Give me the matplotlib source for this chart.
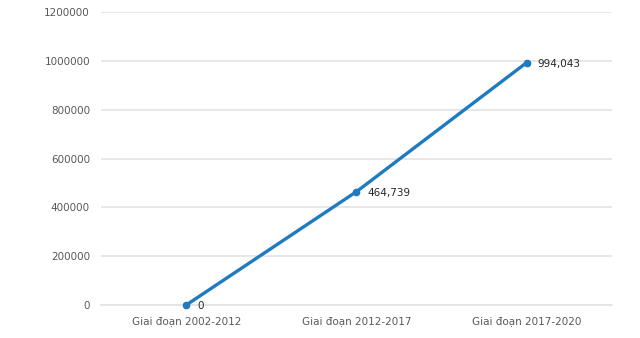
import matplotlib.pyplot as plt

categories = ['Giai đoạn 2002-2012', 'Giai đoạn 2012-2017', 'Giai đoạn 2017-2020']
values = [0, 464739, 994043]
labels = ['0', '464,739', '994,043']

fig = plt.figure(figsize=(6.4, 3.38), dpi=100)
ax = fig.add_axes([0.158, 0.0976, 0.798, 0.866])

x = list(range(len(categories)))
ax.plot(x, values, color='#1f7bbf', linewidth=2.4, marker='o', markersize=4.5,
        zorder=3, clip_on=False)

for xi, v, lab in zip(x, values, labels):
    ax.annotate(lab, (xi, v), xytext=(8, -1), textcoords='offset points',
                ha='left', va='center', fontsize=7.5, color='#262626', zorder=4)

ax.set_xlim(-0.5, 2.5)
ax.set_ylim(0, 1200000)
ax.set_yticks(range(0, 1200001, 200000))
ax.set_yticklabels([str(t) for t in range(0, 1200001, 200000)])
ax.set_xticks(x)
ax.set_xticklabels(categories)

ax.grid(axis='y', color='#e3e3e3', linewidth=1.2)
ax.axhline(0, color='#e3e3e3', linewidth=1.2, clip_on=False, zorder=1)
ax.set_axisbelow(True)
for s in ax.spines.values():
    s.set_visible(False)
ax.tick_params(length=0, labelsize=7.5, labelcolor='#595959')
ax.tick_params(axis='y', pad=8)
ax.tick_params(axis='x', pad=8)

plt.savefig('out.png')
plt.close()
